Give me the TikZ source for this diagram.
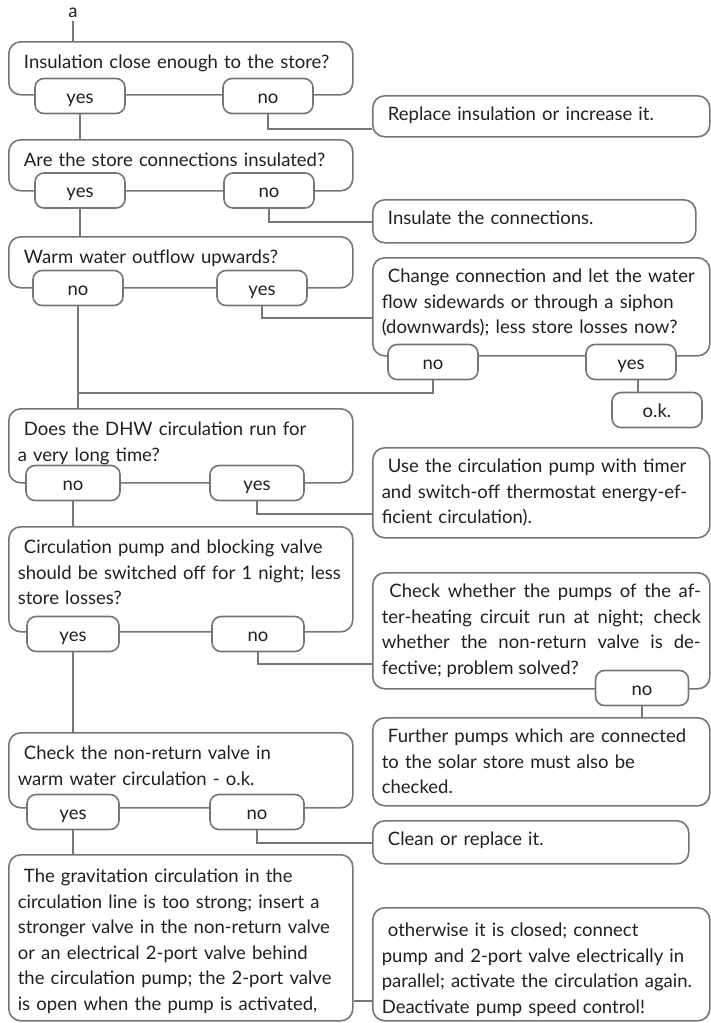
\documentclass[tikz,border=0pt]{standalone}
\usepackage{fontspec}
\setmainfont{Lato}
\definecolor{linegray}{RGB}{118,118,118}
\definecolor{textgray}{RGB}{35,31,32}
\begin{document}
\begin{tikzpicture}[
x=1pt,y=-1pt,
font=\fontsize{18.5}{25.5}\selectfont,
every node/.style={text=textgray},
box/.style={draw=linegray,line width=1.6pt,rounded corners=12pt,anchor=north west,inner xsep=9pt,inner ysep=0pt,align=left},
qbox/.style={box,text width=326pt,text height=27pt},
rbox/.style={box,text width=319pt,text height=25pt},
answer/.style={draw=linegray,line width=1.6pt,fill=white,rounded corners=9pt,minimum width=90pt,minimum height=35pt,inner sep=0pt,text height=14pt,text depth=0pt},
link/.style={draw=linegray,line width=1.6pt}
]
\useasboundingbox (0,0) rectangle (710,1023);
\node (a) at (73,13) {a};
\node[qbox,text depth=26pt] (q1) at (8,41) {~Insulation close enough to the store?};
\node[qbox,text depth=24pt] (q2) at (8,139) {~Are the store connections insulated?};
\node[qbox,text depth=24pt] (q3) at (8,236) {~Warm water outflow upwards?};
\node[qbox,text depth=47pt] (q4) at (8,408) {~Does the DHW circulation run for\\a very long time?};
\node[qbox,text depth=78pt] (q5) at (8,526) {~Circulation pump and blocking valve\\should be switched off for 1 night; less\\store losses?};
\node[qbox,text depth=48pt] (q6) at (8,732) {~Check the non-return valve in\\warm water circulation - o.k.};
\node[qbox,text height=28pt,text depth=138pt] (q7) at (8,854) {~The gravitation circulation in the\\circulation line is too strong; insert a\\stronger valve in the non-return valve\\or an electrical 2-port valve behind\\the circulation pump; the 2-port valve\\is open when the pump is activated,};

\node[rbox,text depth=16pt] (r1) at (372,95) {~Replace insulation or increase it.};
\node[rbox,text width=305pt,text depth=18pt] (r2) at (372,199) {~Insulate the connections.};
\node[rbox,text depth=73pt] (r3) at (372,257) {~Change connection and let the water\\flow sidewards or through a siphon\\(downwards); less store losses now?};
\node[rbox,text depth=65pt] (r4) at (372,447) {~Use the circulation pump with timer\\and switch-off thermostat energy-ef-\\ficient circulation).};
\node[rbox,align=justify,text depth=91pt] (r5) at (372,572) {~Check whether the pumps of the af-\linebreak ter-heating circuit run at night; check\linebreak whether the non-return valve is de-\linebreak fective; problem solved?};
\node[rbox,text depth=63pt] (r6) at (372,717) {~Further pumps which are connected\\to the solar store must also be\\checked.};
\node[rbox,text width=298pt,text depth=18pt] (r7) at (372,820) {~Clean or replace it.};
\node[rbox,text height=29pt,text depth=84pt] (r8) at (372,907) {~otherwise it is closed; connect\\pump and 2-port valve electrically in\\parallel; activate the circulation again.\\Deactivate pump speed control!};

\node[answer] (q1y) at (80,96) {yes};
\node[answer] (q1n) at (268,96) {no};
\node[answer] (q2y) at (80,190.5) {yes};
\node[answer] (q2n) at (269,190.5) {no};
\node[answer] (q3n) at (78,288) {no};
\node[answer] (q3y) at (262,288) {yes};
\node[answer] (r3n) at (433,362) {no};
\node[answer] (r3y) at (631,362) {yes};
\node[answer] (ok) at (657,410) {o.k.};
\node[answer,minimum width=94pt] (q4n) at (73,483) {no};
\node[answer,minimum width=94pt] (q4y) at (257,483) {yes};
\node[answer,minimum width=92pt] (q5y) at (73,634) {yes};
\node[answer,minimum width=92pt] (q5n) at (258,634) {no};
\node[answer,minimum width=93pt] (r5n) at (642,688) {no};
\node[answer,minimum width=92pt] (q6y) at (73,812) {yes};
\node[answer,minimum width=94pt] (q6n) at (257,812) {no};

\coordinate (j1) at (78,393);
\draw[link] (a) -- (a |- q1.north);
\draw[link] (q1y) -- (q1y |- q2.north);
\draw[link] (q1n.south) |- ([yshift=-12.5pt]r1.west);
\draw[link] (q2y) -- (q2y |- q3.north);
\draw[link] (q2n.south) |- ([yshift=-0.5pt]r2.west);
\draw[link] (q3y.south) |- ([yshift=-11pt]r3.west);
\draw[link] (q3n) -- (q3n |- q4.north);
\draw[link] (r3n.south) |- (j1);
\draw[link] ([xshift=7pt]r3y.south) -- ([xshift=7pt]r3y.south |- ok.north);
\draw[link] (q4y.south) |- ([yshift=-21pt]r4.west);
\draw[link] (q4n) -- (q4n |- q5.north);
\draw[link] (q5n.south) |- ([yshift=-33pt]r5.west);
\draw[link] (r5n) -- (r5n |- r6.north);
\draw[link] (q5y) -- (q5y |- q6.north);
\draw[link] (q6n.south) |- ([yshift=-0.5pt]r7.west);
\draw[link] (q6y) -- (q6y |- q7.north);
\draw[link] ([yshift=-63pt]q7.east) -- ([yshift=-63pt]q7.east -| r8.west);
\end{tikzpicture}
\end{document}
